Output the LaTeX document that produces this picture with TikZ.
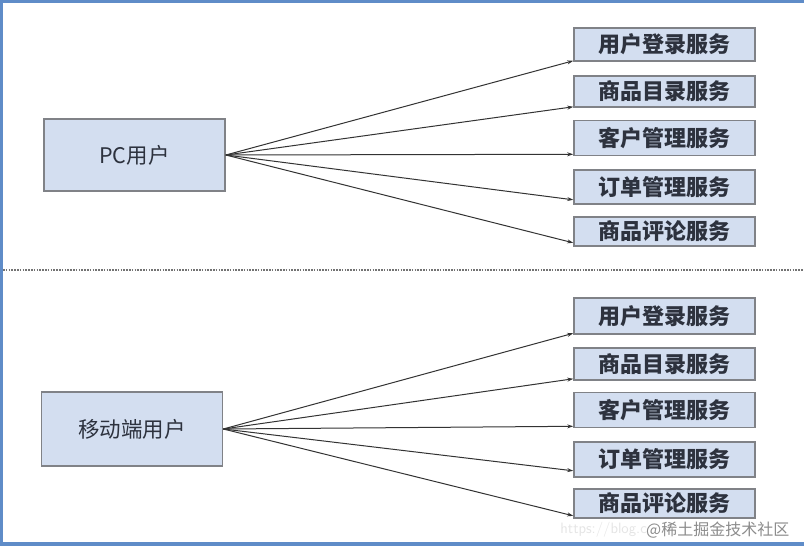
\documentclass[tikz,border=0pt]{standalone}
\usepackage{fontspec}
\newfontfamily\cjk{Noto Sans CJK SC}
\usetikzlibrary{arrows.meta}
\definecolor{boxfill}{RGB}{211,222,240}
\definecolor{boxline}{RGB}{128,130,135}
\definecolor{txt}{RGB}{45,50,62}
\definecolor{frameblue}{RGB}{95,140,200}
\tikzset{
  userbox/.style={draw=boxline, line width=1.6pt, fill=boxfill, minimum width=181pt, minimum height=72pt, inner sep=0pt, font=\cjk\fontsize{21.5}{24}\selectfont, text=txt},
  svcbox/.style={draw=boxline, line width=1.6pt, fill=boxfill, minimum width=181pt, inner sep=0pt, font=\cjk\bfseries\fontsize{22}{24}\selectfont, text=txt},
  conn/.style={draw=black!80, line width=1pt, -{Stealth[length=6pt,width=4pt]}},
}
\begin{document}
\begin{tikzpicture}[x=1pt,y=-1pt]
\useasboundingbox (0,0) rectangle (804,546);
\fill[white] (0,0) rectangle (804,546);
% frame
\fill[frameblue] (0,0) rectangle (804,2.5);
\fill[frameblue] (0,0) rectangle (3,546);
\fill[frameblue] (0,541.5) rectangle (804,546);
% dashed separator
\draw[gray!90!black, line width=1.8pt, dash pattern=on 1.6pt off 1.2pt] (3,270) -- (804,270);
% upper part
\node[userbox] (pc) at (134.5,155) {PC用户};
\node[svcbox, minimum height=33pt] (a1) at (664.5,44.5) {用户登录服务};
\node[svcbox, minimum height=31pt] (a2) at (664.5,91.5) {商品目录服务};
\node[svcbox, minimum height=35pt] (a3) at (664.5,138) {客户管理服务};
\node[svcbox, minimum height=34pt] (a4) at (664.5,187) {订单管理服务};
\node[svcbox, minimum height=29pt] (a5) at (664.5,231.5) {商品评论服务};
\draw[conn] (pc.east) -- ([yshift=1pt]a1.south west);
\draw[conn] (pc.east) -- ([yshift=1pt]a2.south west);
\draw[conn] (pc.east) -- ([yshift=2pt]a3.south west);
\draw[conn] (pc.east) -- ([yshift=5pt]a4.south west);
\draw[conn] (pc.east) -- ([yshift=4pt]a5.south west);
% lower part
\node[userbox, minimum height=74pt] (mb) at (132,429) {移动端用户};
\node[svcbox, minimum height=36pt] (b1) at (664.5,316) {用户登录服务};
\node[svcbox, minimum height=32pt] (b2) at (664.5,364) {商品目录服务};
\node[svcbox, minimum height=35pt] (b3) at (664.5,410) {客户管理服务};
\node[svcbox, minimum height=35pt] (b4) at (664.5,459.5) {订单管理服务};
\node[svcbox, minimum height=29pt] (b5) at (664.5,503.5) {商品评论服务};
\draw[conn] (mb.east) -- ([yshift=1.5pt]b1.south west);
\draw[conn] (mb.east) -- ([yshift=2pt]b2.south west);
\draw[conn] (mb.east) -- ([yshift=2pt]b3.south west);
\draw[conn] (mb.east) -- ([yshift=7pt]b4.south west);
\draw[conn] (mb.east) -- ([yshift=3pt]b5.south west);
% watermark
\node[anchor=east, font=\sffamily\fontsize{15}{18}\selectfont, text=black!10, inner sep=0pt] (wm1) at (647,530) {https://blog.c};
\node[anchor=west, font=\cjk\fontsize{16}{18}\selectfont, text=black!45, inner sep=0pt] (wm2) at (646,530) {@稀土掘金技术社区};
\end{tikzpicture}
\end{document}
